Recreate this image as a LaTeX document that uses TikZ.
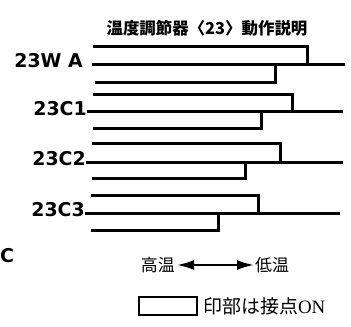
\documentclass[tikz,border=0pt]{standalone}
\usepackage{fontspec}
\setmainfont{Liberation Serif}
\newfontfamily\jpfont{Noto Sans CJK JP}
\newfontfamily\lblfont{DejaVu Sans}
\usepackage{tikz}
\usetikzlibrary{arrows.meta, positioning, calc}
\tikzset{
  rowlabel/.style={
    anchor=east, inner sep=0pt,
    font=\lblfont\bfseries\fontsize{19}{19}\selectfont
  },
  jptext/.style={
    inner sep=0pt, font=\jpfont\fontsize{17}{17}\selectfont
  },
  legendtext/.style={
    inner sep=0pt, font=\fontsize{19}{19}\selectfont
  },
  contact/.style={
    line width=3bp, line join=miter
  },
  temparr/.style={
    {Latex[length=17bp,width=10bp]}-{Latex[length=17bp,width=10bp]},
    line width=2.2bp, shorten <=2bp, shorten >=1bp
  },
  legendbox/.style={
    draw, line width=2.4bp, inner sep=0pt,
    minimum width=58bp, minimum height=18bp
  }
}

\begin{document}
\begin{tikzpicture}[x=1bp, y=-1bp]
  \useasboundingbox (0,0) rectangle (351,327);

  %% ── Title ──────────────────────────────────────────────
  \node[jptext, font=\jpfont\bfseries\fontsize{16.5}{17}\selectfont] (title)
    at (207,28) {温度調節器〈23〉動作説明};

  %% ── Row 1: 23W A ───────────────────────────────────────
  \node[rowlabel] (lblWA) at (83,61) {23W A};
  \coordinate (waTopL) at (93,46);  \coordinate (waTopR) at (307,46);
  \coordinate (waMidR) at (345,64);
  \coordinate (waBotL) at (95,82);  \coordinate (waBotR) at (275,82);
  \draw[contact] (waTopL) -- (waTopR) -- (waTopR |- waMidR);
  \draw[contact] ([xshift=9bp]lblWA.east |- waMidR) -- (waMidR);
  \draw[contact] (waBotL) -- (waBotR) -- (waBotR |- waMidR);

  %% ── Row 2: 23C1 ────────────────────────────────────────
  \node[rowlabel] (lblCa) at (87,109) {23C1};
  \coordinate (caTopL) at (93,94);  \coordinate (caTopR) at (292,94);
  \coordinate (caMidR) at (343,111);
  \coordinate (caBotL) at (93,128); \coordinate (caBotR) at (261,128);
  \draw[contact] (caTopL) -- (caTopR) -- (caTopR |- caMidR);
  \draw[contact] (lblCa.east |- caMidR) -- (caMidR);
  \draw[contact] (caBotL) -- (caBotR) -- (caBotR |- caMidR);

  %% ── Row 3: 23C2 ────────────────────────────────────────
  \node[rowlabel] (lblCb) at (86,159) {23C2};
  \coordinate (cbTopL) at (92,143); \coordinate (cbTopR) at (280,143);
  \coordinate (cbMidR) at (343,162);
  \coordinate (cbBotL) at (92,178); \coordinate (cbBotR) at (245,178);
  \draw[contact] (cbTopL) -- (cbTopR) -- (cbTopR |- cbMidR);
  \draw[contact] (lblCb.east |- cbMidR) -- (cbMidR);
  \draw[contact] (cbBotL) -- (cbBotR) -- (cbBotR |- cbMidR);

  %% ── Row 4: 23C3 ────────────────────────────────────────
  \node[rowlabel] (lblCc) at (85,210) {23C3};
  \coordinate (ccTopL) at (91,195); \coordinate (ccTopR) at (258,195);
  \coordinate (ccMidR) at (340,213);
  \coordinate (ccBotL) at (91,230); \coordinate (ccBotR) at (218,230);
  \draw[contact] (ccTopL) -- (ccTopR) -- (ccTopR |- ccMidR);
  \draw[contact] (lblCc.east |- ccMidR) -- (ccMidR);
  \draw[contact] (ccBotL) -- (ccBotR) -- (ccBotR |- ccMidR);

  % lone letter at the left edge
  \node[rowlabel, anchor=west] (cut) at (0,256) {C};

  %% ── Temperature direction ──────────────────────────────
  \node[jptext, anchor=east] (hot) at (175,265) {高温};
  \node[jptext, anchor=west] (cold) at (255,265) {低温};
  \draw[temparr] (hot.east) -- (cold.west);

  %% ── Legend ─────────────────────────────────────────────
  \node[legendbox] (legend) at (168,306) {};
  \node[legendtext, anchor=west, right=5bp of legend] (legendtxt)
    {{\jpfont 印部は接点}ON};
\end{tikzpicture}
\end{document}
